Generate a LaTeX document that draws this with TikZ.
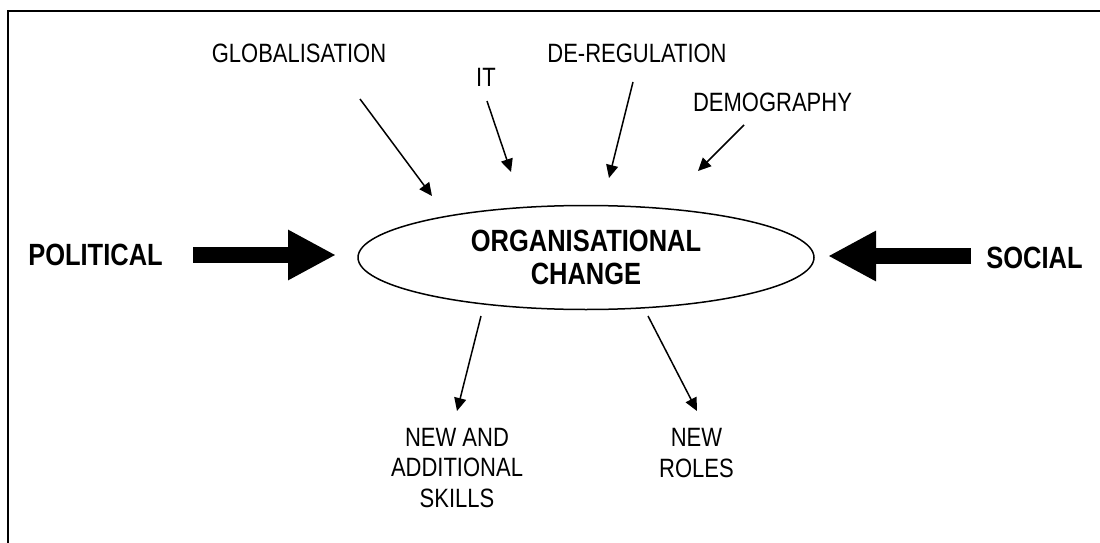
\documentclass[tikz,border=0pt]{standalone}
\usepackage{fontspec}
\setmainfont[FakeStretch=0.83]{Liberation Sans}
\usetikzlibrary{arrows.meta,shapes.geometric}
\begin{document}
\begin{tikzpicture}[x=1pt,y=-1pt,
  lab/.style={font=\fontsize{26.5}{30.5}\selectfont, inner sep=0pt, align=center},
  biglab/.style={font=\bfseries\fontsize{30.7}{33}\selectfont, inner sep=0pt, align=center},
  thinarrow/.style={line width=1.5pt, -{Triangle[length=13pt,width=12pt]}},
  fatarrow/.style={line width=15.5pt, -{Triangle[length=48pt,width=47pt]}},
  frameline/.style={line width=2pt}]
\useasboundingbox (0,0) rectangle (1100,543);
% frame (top and left)
\coordinate (fTR) at (1100,11);
\coordinate (fTL) at (8,11);
\coordinate (fBL) at (8,543);
\draw[frameline] (fTR) -- (fTL) -- (fBL);
% central ellipse
\node[draw, ellipse, line width=1.5pt, minimum width=456pt, minimum height=104pt, biglab] (oc) at (586,257.5) {ORGANISATIONAL\\CHANGE};
% top labels
\node[lab, anchor=base] (glob) at (299,63) {GLOBALISATION};
\node[lab, anchor=base] (it) at (486,86) {IT};
\node[lab, anchor=base] (dereg) at (637,63) {DE-REGULATION};
\node[lab, anchor=base] (demo) at (772.5,111) {DEMOGRAPHY};
% side labels
\node[biglab, anchor=base] (pol) at (95.5,265) {POLITICAL};
\node[biglab, anchor=base] (soc) at (1034.5,268) {SOCIAL};
% bottom labels
\node[lab] (skills) at (457,468) {NEW AND\\ADDITIONAL\\SKILLS};
\node[lab] (roles) at (696.5,453) {NEW\\ROLES};
% arrow end points
\coordinate (gS) at (360,99);  \coordinate (gE) at (432,196);
\coordinate (iS) at (487,101); \coordinate (iE) at (511,172);
\coordinate (dS) at (633,82);  \coordinate (dE) at (609,178);
\coordinate (mS) at (744,125); \coordinate (mE) at (698,171);
\coordinate (sS) at (481,316); \coordinate (sE) at (457,411);
\coordinate (rS) at (648,316); \coordinate (rE) at (697,411);
\coordinate (pS) at (193,255); \coordinate (pE) at (336,255);
\coordinate (cS) at (971,256); \coordinate (cE) at (828,256);
\draw[thinarrow] (gS) -- (gE);
\draw[thinarrow] (iS) -- (iE);
\draw[thinarrow] (dS) -- (dE);
\draw[thinarrow] (mS) -- (mE);
\draw[thinarrow] (sS) -- (sE);
\draw[thinarrow] (rS) -- (rE);
\draw[fatarrow] (pS) -- (pE);
\draw[fatarrow] (cS) -- (cE);
\end{tikzpicture}
\end{document}
